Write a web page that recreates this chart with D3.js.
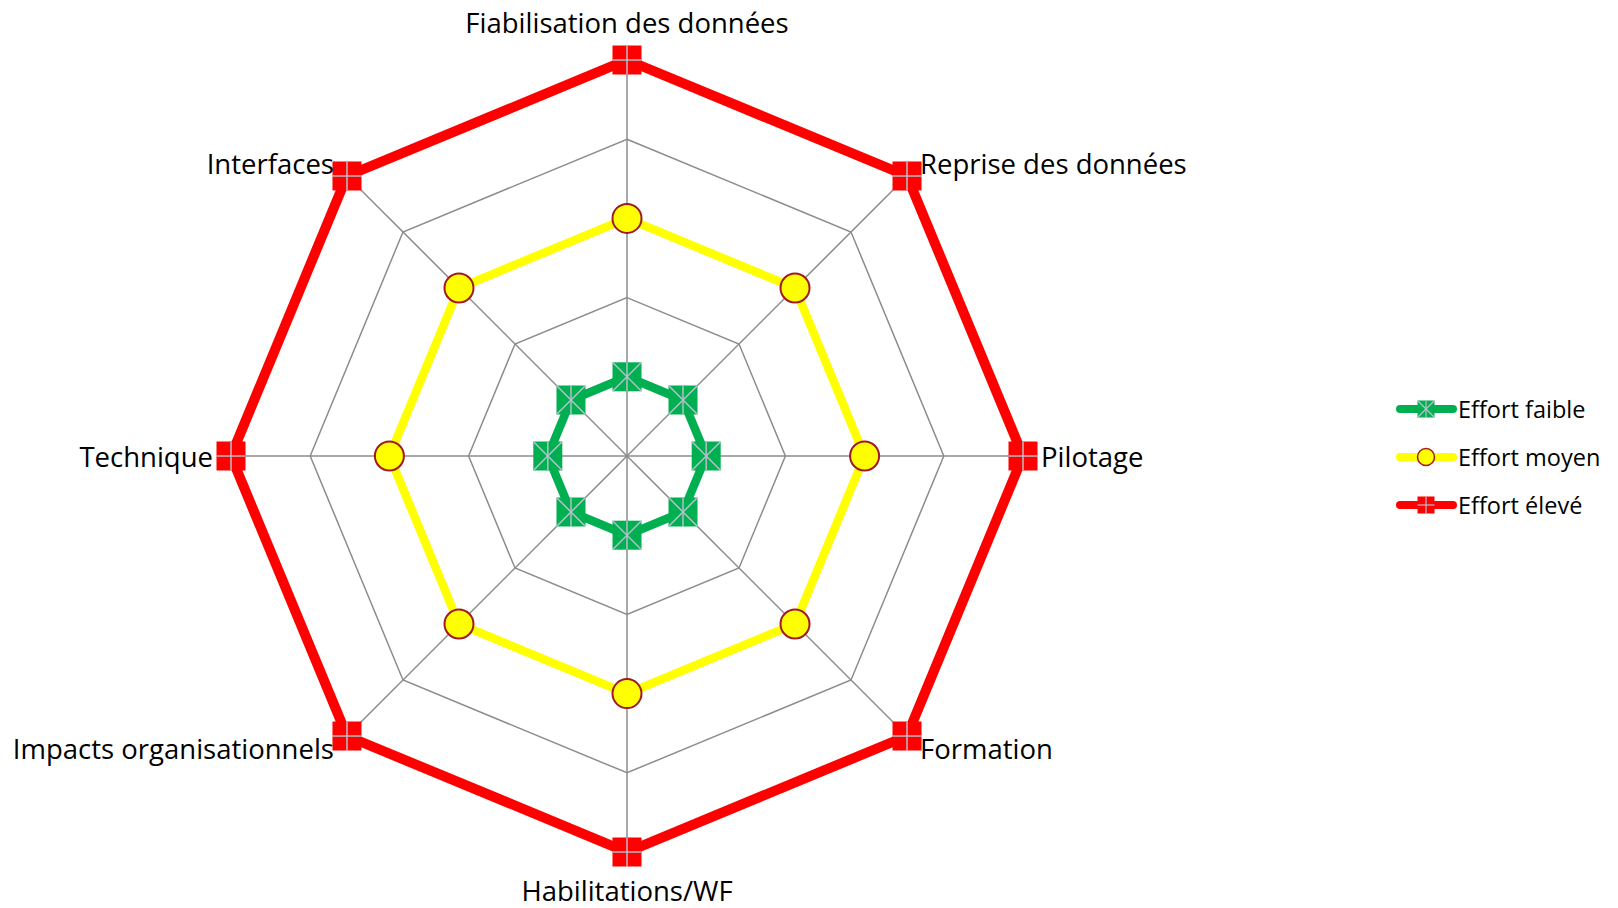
<!DOCTYPE html>
<html>
<head>
<meta charset="utf-8">
<script src="https://cdn.jsdelivr.net/npm/d3@7"></script>
<style>
  html, body { margin: 0; padding: 0; background: #fff; }
  svg { display: block; }
  text { font-family: "Open Sans", "Liberation Sans", sans-serif; fill: #000; }
</style>
</head>
<body>
<svg id="chart" width="1618" height="908"></svg>
<script>
// ---- data ----
const categories = ["Fiabilisation des données", "Reprise des données", "Pilotage", "Formation",
  "Habilitations/WF", "Impacts organisationnels", "Technique", "Interfaces"];
const seriesNames = ["Effort faible", "Effort moyen", "Effort élevé"];
const effortFaible = [0.5, 0.5, 0.5, 0.5, 0.5, 0.5, 0.5, 0.5];
const effortMoyen  = [1.5, 1.5, 1.5, 1.5, 1.5, 1.5, 1.5, 1.5];
const effortEleve  = [2.5, 2.5, 2.5, 2.5, 2.5, 2.5, 2.5, 2.5];
const gridLevels = [1, 2, 2.5];
const axisMax = 2.5;

// ---- layout ----
const svg = d3.select("#chart");
const cx = 627, cy = 456, R = 396;
const rScale = d3.scaleLinear().domain([0, axisMax]).range([0, R]);
const aScale = d3.scaleLinear().domain([0, categories.length]).range([0, 2 * Math.PI]);
const pt = (i, v) => {
  const a = aScale(i);
  return [cx + rScale(v) * Math.sin(a), cy - rScale(v) * Math.cos(a)];
};

const series = [
  { name: seriesNames[0], values: effortFaible, color: "#00b050", marker: "star", width: 8.5 },
  { name: seriesNames[1], values: effortMoyen, color: "#ffff00", marker: "circle", width: 8.5 },
  { name: seriesNames[2], values: effortEleve, color: "#ff0000", marker: "plus", width: 10 }
];

const g = svg.append("g");

// grid rings
gridLevels.forEach(l => {
  g.append("path")
    .attr("d", d3.line()(categories.map((c, i) => pt(i, l))) + "Z")
    .attr("fill", "none").attr("stroke", "#8c8c8c").attr("stroke-width", 1.5);
});
// spokes
categories.forEach((c, i) => {
  const [x, y] = pt(i, axisMax);
  g.append("line").attr("x1", cx).attr("y1", cy).attr("x2", x).attr("y2", y)
    .attr("stroke", "#8c8c8c").attr("stroke-width", 1.5);
});

const crossColor = "#b4c0cc";
function drawMarker(sel, type, color, x, y, s) {
  const h = s / 2;
  if (type === "circle") {
    sel.append("circle").attr("cx", x).attr("cy", y).attr("r", h)
      .attr("fill", "#ffff00").attr("stroke", "#a01a22").attr("stroke-width", s > 20 ? 2 : 1.5);
  } else {
    sel.append("rect").attr("x", x - h).attr("y", y - h).attr("width", s).attr("height", s)
      .attr("fill", color);
    const sw = s > 20 ? 1.5 : 1.2;
    if (type === "plus") {
      sel.append("line").attr("x1", x - h).attr("y1", y).attr("x2", x + h).attr("y2", y)
        .attr("stroke", crossColor).attr("stroke-width", sw);
      sel.append("line").attr("x1", x).attr("y1", y - h).attr("x2", x).attr("y2", y + h)
        .attr("stroke", crossColor).attr("stroke-width", sw);
    } else {
      sel.append("line").attr("x1", x - h).attr("y1", y - h).attr("x2", x + h).attr("y2", y + h)
        .attr("stroke", crossColor).attr("stroke-width", sw);
      sel.append("line").attr("x1", x - h).attr("y1", y + h).attr("x2", x + h).attr("y2", y - h)
        .attr("stroke", crossColor).attr("stroke-width", sw);
      sel.append("line").attr("x1", x).attr("y1", y - h).attr("x2", x).attr("y2", y + h)
        .attr("stroke", crossColor).attr("stroke-width", sw);
    }
  }
}

// series
series.forEach(s => {
  const pts = s.values.map((v, i) => pt(i, v));
  g.append("path").attr("d", d3.line()(pts) + "Z")
    .attr("fill", "none").attr("stroke", s.color).attr("stroke-width", s.width)
    .attr("stroke-linejoin", "miter");
  const mg = g.append("g");
  pts.forEach(([x, y]) => drawMarker(mg, s.marker, s.color, x, y, 29));
});

// category labels
const labelPos = [
  { dx: 0, dy: -38, anchor: "middle" },
  { dx: 13, dy: -12, anchor: "start" },
  { dx: 18, dy: 0, anchor: "start" },
  { dx: 13, dy: 12, anchor: "start" },
  { dx: 0, dy: 38, anchor: "middle" },
  { dx: -13, dy: 12, anchor: "end" },
  { dx: -18, dy: 0, anchor: "end" },
  { dx: -13, dy: -12, anchor: "end" }
];
categories.forEach((c, i) => {
  const [x, y] = pt(i, axisMax);
  const p = labelPos[i];
  svg.append("text").attr("x", x + p.dx).attr("y", y + p.dy)
    .attr("text-anchor", p.anchor).attr("dominant-baseline", "central")
    .attr("font-size", 27.5).text(c);
});

// legend
const lgY = d3.scalePoint().domain(seriesNames).range([409, 505]);
const lg = svg.append("g");
series.forEach(s => {
  const y = lgY(s.name);
  lg.append("line").attr("x1", 1400).attr("y1", y).attr("x2", 1453).attr("y2", y)
    .attr("stroke", s.color).attr("stroke-width", 8).attr("stroke-linecap", "round");
  drawMarker(lg, s.marker, s.color, 1426, y, 17);
  lg.append("text").attr("x", 1458).attr("y", y).attr("dominant-baseline", "central")
    .attr("font-size", 23.5).text(s.name);
});
</script>
</body>
</html>
